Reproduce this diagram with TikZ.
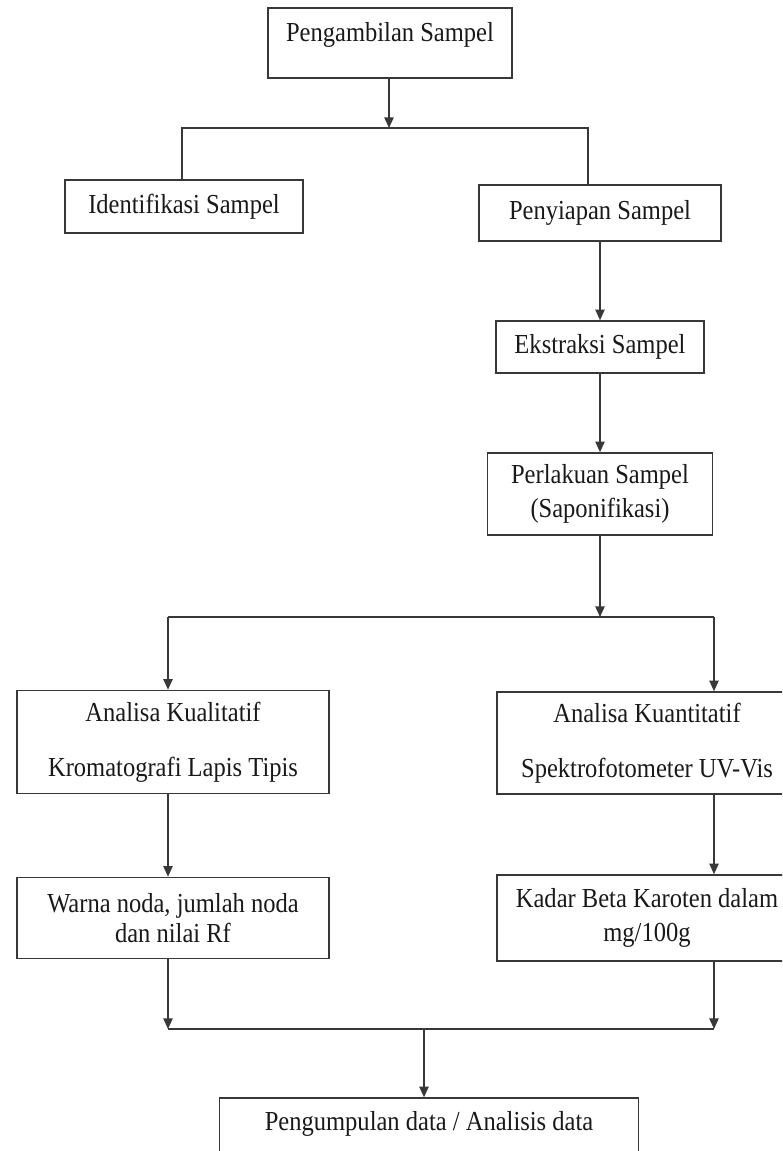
\documentclass[tikz,border=0pt]{standalone}
\usepackage{graphicx}
\usepackage{fontspec}
\setmainfont{Liberation Serif}
\usetikzlibrary{arrows.meta,calc}
% slightly tall, narrow lettering
\newcommand\tallline[1]{\scalebox{1}[1.12]{#1}}
\begin{document}
\begin{tikzpicture}[x=0.75pt,y=-0.75pt,
  box/.style={draw=black!78,line width=1.2pt,fill=white,inner sep=0pt,
    align=center,text=black!90,font=\fontsize{18.4}{22}\selectfont},
  link/.style={draw=black!78,line width=1.1pt},
  arr/.style={link,-{Triangle[length=8pt,width=7pt]}}]
\clip (0,0) rectangle (782,1151);
\fill[white] (0,0) rectangle (782,1151);

% process boxes
\node[box,minimum width=183pt,minimum height=52.5pt] (top) at (390,43)
  {\raisebox{6pt}[\height][\depth]{\tallline{Pengambilan Sampel}}};
\node[box,minimum width=178.5pt,minimum height=39.75pt] (ident) at (184,206.5)
  {\tallline{Identifikasi Sampel}};
\node[box,minimum width=181.5pt,minimum height=42pt] (peny) at (600,213)
  {\tallline{Penyiapan Sampel}};
\node[box,minimum width=156pt,minimum height=39pt] (ekstr) at (600,347)
  {\tallline{Ekstraksi Sampel}};
\node[box,minimum width=168.75pt,minimum height=61.5pt] (perl) at (600,494)
  {\tallline{Perlakuan Sampel}\\[3pt]\tallline{(Saponifikasi)}};
\node[box,minimum width=234pt,minimum height=77.25pt] (kual) at (173,742)
  {\tallline{Analisa Kualitatif}\\[19.5pt]\tallline{Kromatografi Lapis Tipis}};
\node[box,minimum width=225pt,minimum height=76.5pt] (kuan) at (647,743)
  {\tallline{Analisa Kuantitatif}\\[19.5pt]\tallline{Spektrofotometer UV-Vis}};
\node[box,minimum width=234pt,minimum height=60.75pt] (warna) at (173,918)
  {\tallline{Warna noda, jumlah noda}\\[0pt]\tallline{dan nilai Rf}};
\node[box,minimum width=225pt,minimum height=64.5pt] (kadar) at (647,918)
  {\tallline{Kadar Beta Karoten dalam}\\[3pt]\tallline{mg/100g}};
\node[box,minimum width=314.25pt,minimum height=46.5pt] (final) at (429,1129)
  {\raisebox{3.75pt}[\height][\depth]{\tallline{Pengumpulan data / Analisis data}}};

% junction points of the branch lines
\coordinate (s1) at (389,128);
\coordinate (b1L) at (182,128);
\coordinate (b1R) at (588,128);
\coordinate (s2) at (600,617);
\coordinate (b2L) at (168,617);
\coordinate (b2R) at (714,617);
\coordinate (b3L) at (168,1029);
\coordinate (b3R) at (714,1029);
\coordinate (s3) at (424,1029);

% connectors
\draw[arr] (top.south -| s1) -- (s1);
\draw[link] (ident.north -| b1L) -- (b1L) -- (b1R) -- (peny.north -| b1R);
\draw[arr] (peny.south) -- (ekstr.north);
\draw[arr] (ekstr.south) -- (perl.north);
\draw[arr] (perl.south) -- (s2);
\draw[link] (b2L) -- (b2R);
\draw[arr] (b2L) -- (kual.north -| b2L);
\draw[arr] (b2R) -- (kuan.north -| b2R);
\draw[arr] (kual.south -| b2L) -- (warna.north -| b2L);
\draw[arr] (kuan.south -| b2R) -- (kadar.north -| b2R);
\draw[arr] (warna.south -| b3L) -- (b3L);
\draw[arr] (kadar.south -| b3R) -- (b3R);
\draw[link] (b3L) -- (b3R);
\draw[arr] (s3) -- (final.north -| s3);
\end{tikzpicture}
\end{document}
